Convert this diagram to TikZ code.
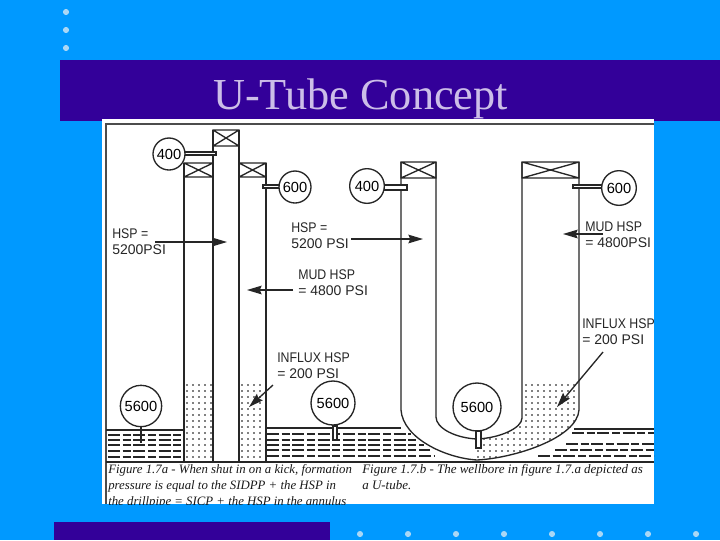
\documentclass[tikz,border=0pt]{standalone}
\usepackage{fontspec}
\setmainfont{Liberation Serif}
\setsansfont{Liberation Sans}
\newfontfamily\capsface{Liberation Sans}[FakeStretch=0.88]
\usetikzlibrary{arrows.meta,positioning}
\definecolor{slidebg}{RGB}{0,153,255}
\definecolor{slidebar}{RGB}{51,0,153}
\definecolor{slidedot}{RGB}{170,215,245}
\definecolor{slidetitle}{RGB}{204,190,232}
\begin{document}
\begin{tikzpicture}[x=0.75pt,y=-0.75pt,>={Stealth[length=11pt,width=6.5pt,inset=1.5pt]},
 well/.style={line width=1pt,black!85},
 gauge/.style={draw=black!85,line width=1pt,circle,fill=white,inner sep=0pt,font=\sffamily\fontsize{11}{11}\selectfont},
 lbl/.style={anchor=base west,inner sep=0pt,align=left,black!85,font=\sffamily\fontsize{10.5}{11.4}\selectfont},
 capt/.style={anchor=base west,inner sep=0pt,black!90,font=\itshape\fontsize{9.6}{10}\selectfont},
 captb/.style={capt,font=\itshape\fontsize{9.73}{10}\selectfont},
 arr/.style={->,line width=1pt,black!85},
 mud/.style={line width=1pt,black!85,dash pattern=on 9pt off 2pt on 6pt off 2pt}]
\useasboundingbox (0,0) rectangle (720,540);
% slide
\fill[slidebg] (0,0) rectangle (720,540);
\fill[slidebar] (60,60) rectangle (720,121);
\fill[slidebar] (54,522) rectangle (330,540);
\foreach \y in {12,30,48} \fill[slidedot] (66,\y) circle (2.3pt);
\foreach \x in {360,408,...,696} \fill[slidedot] (\x,534) circle (2.3pt);
\fill[white] (102,119) rectangle (654,504);
\node[text=slidetitle,font=\fontsize{33.2}{33}\selectfont,anchor=base west,inner sep=0pt] (title) at (213,109) {U-Tube Concept};
\draw[black!70,line width=0.8pt] (654,124) -- (106,124) -- (106,504);
% dots
\foreach \x in {187,193,199,205,211,242,248,254,260}
  \foreach \y in {385,391,...,460}
    \fill[black] (\x,\y) circle (0.6pt);
\begin{scope}
\clip (579,384) -- (579,410) .. controls (577,438) and (515,458) .. (477,460) -- (477,439) .. controls (500,438) and (522,428) .. (522,418) -- (522,384) -- cycle;
\foreach \x in {478,484,...,580}
  \foreach \y in {385,391,...,460}
    \fill[black] (\x,\y) circle (0.6pt);
\end{scope}
% ground
\foreach \y in {435,440,445,451,457} \draw[mud] (108,\y) -- (183,\y);
\foreach \y/\x in {434/411,440/417,445/424,450/430,456/435} \draw[mud] (267,\y) -- (\x,\y);
\foreach \y/\x in {433/572,444/566,450/555,456/538} \draw[mud] (\x,\y) -- (654,\y);
\draw[well] (106,430) -- (184,430);
\draw[well] (266,428) -- (401,428);
\draw[well] (574,429) -- (654,429);
\draw[well] (106,462) -- (654,462);
% fig a
\draw[well] (184,163) -- (184,462);
\draw[well] (213,130) -- (213,462);
\draw[well] (239,130) -- (239,462);
\draw[well] (266,163) -- (266,462);
% fig b
\draw[well] (401,162) -- (401,410) .. controls (403,438) and (445,458) .. (477,460) .. controls (515,458) and (577,438) .. (579,410) -- (579,162);
\draw[well] (436,162) -- (436,417) .. controls (436,428) and (455,438) .. (477,439) .. controls (500,438) and (522,428) .. (522,418) -- (522,162);
% bops
\foreach \xa/\ya/\xb/\yb in {213/130/239/146,184/163/213/177,239/163/266/177,401/162/436/178,522/162/579/178}
  \draw[well] (\xa,\ya) rectangle (\xb,\yb) (\xa,\ya) -- (\xb,\yb) (\xa,\yb) -- (\xb,\ya);
% stems
\draw[well,fill=white] (184,152) rectangle (216,155);
\draw[well,fill=white] (263,185) rectangle (280,188);
\draw[well,fill=white] (384,185) rectangle (407,190);
\draw[well,fill=white] (573,185) rectangle (603,188);
\draw[line width=2pt,black!85] (141,427) -- (141,443);
\draw[well,fill=white] (333,426) rectangle (337,440);
\draw[well,fill=white] (476,431) rectangle (481,448);
% gauges
\node[gauge,minimum size=24pt] (gaugeDpA) at (169,154) {400};
\node[gauge,minimum size=24pt] (gaugeAnA) at (295,187) {600};
\node[gauge,minimum size=31pt] (gaugeBhA) at (141,406) {5600};
\node[gauge,minimum size=33pt] (gaugeMid) at (333,403) {5600};
\node[gauge,minimum size=26pt] (gaugeDpB) at (367,186) {400};
\node[gauge,minimum size=26pt] (gaugeAnB) at (619,188) {600};
\node[gauge,minimum size=36pt,fill=none] (gaugeBhB) at (477,407) {5600};
% labels fig a
\node[lbl] (hspA) at (112,254) {{\capsface HSP =}\\5200PSI};
\node[lbl] (mudA) at (298,295) {{\capsface MUD HSP}\\= 4800 PSI};
\node[lbl] (flxA) at (277,378) {{\capsface INFLUX HSP}\\= 200 PSI};
\coordinate (hspAs) at (155,242); \coordinate (hspAe) at (227,242);
\coordinate (mudAs) at (293,290); \coordinate (mudAe) at (247,290);
\coordinate (flxAs) at (273,385); \coordinate (flxAe) at (249,407);
\draw[arr] (hspAs) -- (hspAe);
\draw[arr] (mudAs) -- (mudAe);
\draw[arr] (flxAs) -- (flxAe);
% labels fig b
\node[lbl] (hspB) at (291,248) {{\capsface HSP =}\\5200 PSI};
\node[lbl] (mudB) at (585,247) {{\capsface MUD HSP}\\= 4800PSI};
\node[lbl] (flxB) at (582,344) {{\capsface INFLUX HSP}\\= 200 PSI};
\coordinate (hspBs) at (351,239); \coordinate (hspBe) at (423,239);
\coordinate (mudBs) at (603,234); \coordinate (mudBe) at (563,234);
\coordinate (flxBs) at (603,352); \coordinate (flxBe) at (557,407);
\draw[arr] (hspBs) -- (hspBe);
\draw[arr] (mudBs) -- (mudBe);
\draw[arr] (flxBs) -- (flxBe);
% captions
\begin{scope}
\clip (102,119) rectangle (654,504);
\node[capt] (capA1) at (108,473) {Figure 1.7a - When shut in on a kick, formation};
\node[capt] (capA2) at (108,489) {pressure is equal to the SIDPP + the HSP in};
\node[capt] (capA3) at (108,505) {the drillpipe = SICP + the HSP in the annulus};
\node[captb] (capB1) at (362,473) {Figure 1.7.b - The wellbore in figure 1.7.a depicted as};
\node[captb] (capB2) at (362,489) {a U-tube.};
\end{scope}
\end{tikzpicture}
\end{document}
